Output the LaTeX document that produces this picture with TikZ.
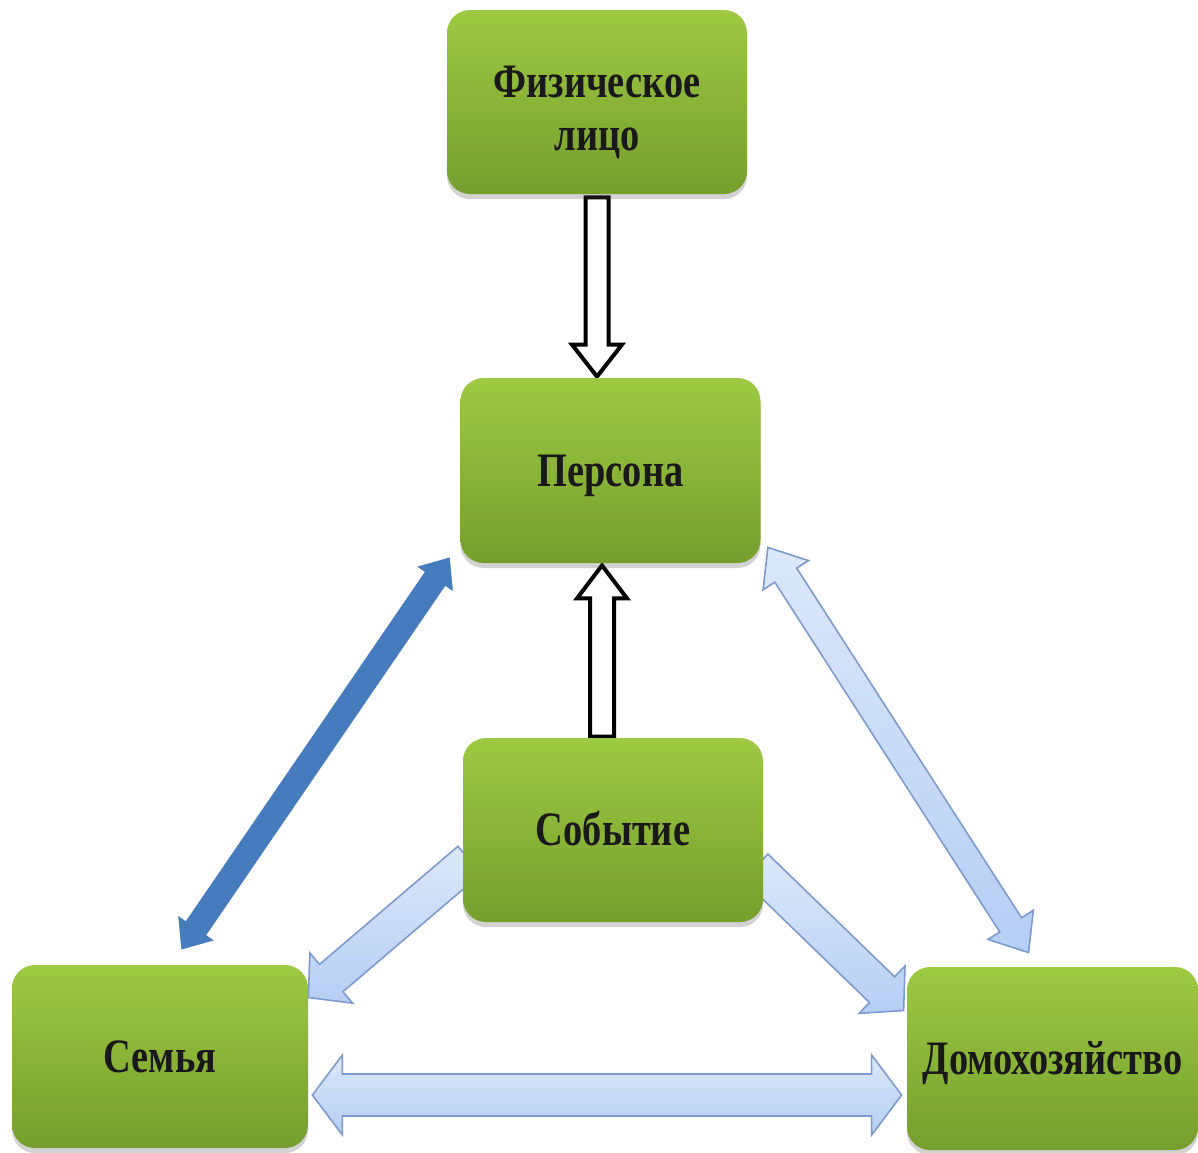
\documentclass[tikz,border=0pt]{standalone}
\usepackage{fontspec}
\newfontfamily\boxfont{Liberation Serif}[FakeStretch=0.8]
\usetikzlibrary{calc,shadows,backgrounds}
\pgfdeclarelayer{bgzero}
\pgfsetlayers{bgzero,background,main}
\definecolor{gtop}{RGB}{158,201,66}
\definecolor{gmid}{RGB}{150,192,60}
\definecolor{gbot}{RGB}{118,158,46}
\definecolor{dblue}{RGB}{70,124,190}
\definecolor{lblue}{RGB}{200,218,246}
\definecolor{lbtop}{RGB}{220,232,250}
\definecolor{lbbot}{RGB}{182,206,244}
\definecolor{lbline}{RGB}{125,155,205}
% single block arrow: style, from, to, shaft half, head half, head length
\newcommand\sblockarrow[6]{%
 \path[#1] ($(#2)!#4!90:(#3)$)
 -- ($(#3)!#6!(#2)!#4!90:(#3)$)
 -- ($(#3)!#6!(#2)!#5!90:(#3)$)
 -- (#3)
 -- ($(#3)!#6!(#2)!#5!-90:(#3)$)
 -- ($(#3)!#6!(#2)!#4!-90:(#3)$)
 -- ($(#2)!#4!-90:(#3)$) -- cycle;}
% double block arrow
\newcommand\dblockarrow[6]{%
 \path[#1] ($(#2)!#6!(#3)!#4!90:(#3)$)
 -- ($(#3)!#6!(#2)!#4!90:(#3)$)
 -- ($(#3)!#6!(#2)!#5!90:(#3)$)
 -- (#3)
 -- ($(#3)!#6!(#2)!#5!-90:(#3)$)
 -- ($(#3)!#6!(#2)!#4!-90:(#3)$)
 -- ($(#2)!#6!(#3)!#4!-90:(#3)$)
 -- ($(#2)!#6!(#3)!#5!-90:(#3)$)
 -- (#2)
 -- ($(#2)!#6!(#3)!#5!90:(#3)$) -- cycle;}
\newcommand\onelinetext[1]{\raisebox{-7.75pt}[0pt][0pt]{#1}}
\newcommand\twolinetext[1]{\raisebox{2.5pt}[0pt][0pt]{\begin{tabular}[t]{@{}c@{}}#1\end{tabular}}}
\begin{document}
\begin{tikzpicture}[x=0.5pt,y=-0.5pt,
  box/.style={rounded corners=11.5pt, top color=gtop, middle color=gmid, bottom color=gbot,
    draw=none, inner sep=0pt, align=center, minimum width=150pt, minimum height=92pt,
    font=\boxfont\bfseries\fontsize{24}{26.5}\selectfont, text=black!90,
    drop shadow={shadow xshift=0pt, shadow yshift=-2.5pt, opacity=0.25, fill=black!70}},
  hollow/.style={fill=white, draw=black, line width=2pt, line join=miter},
  darkarr/.style={fill=dblue, draw=white, line width=1.5pt, line join=miter},
  lightarr/.style={top color=lbtop, bottom color=lbbot, draw=lbline, line width=0.8pt, line join=miter}]
\begin{pgfonlayer}{bgzero}
\fill[white] (0,0) rectangle (1198,1152);
\end{pgfonlayer}
\useasboundingbox (0,0) rectangle (1198,1152);

\node[box] (fiz) at (597,102) {\twolinetext{Физическое\\лицо}};
\node[box, minimum height=92.5pt] (pers) at (610.5,470.5) {\onelinetext{Персона}};
\node[box] (sob) at (613,830) {\onelinetext{Событие}};
\node[box, minimum width=148pt, minimum height=91.5pt] (sem) at (160,1056.5) {\onelinetext{Семья}};
\node[box, minimum width=145.5pt, minimum height=91.5pt] (dom) at (1052.5,1058.5) {\onelinetext{Домохозяйство}};

% connector end points
\coordinate (h1a) at ($(fiz.south)+(0,3)$);
\coordinate (h1b) at ($(fiz.south |- pers.north)+(0,-1)$);
\coordinate (h2a) at ($(sob.north)+(-11,-1)$);
\coordinate (h2b) at ($(sob.north |- pers.south)+(-11,2)$);
\coordinate (d1a) at ($(sem.north)+(20,-13)$);
\coordinate (d1b) at ($(pers.south west)+(-9,-8)$);
\coordinate (d2a) at ($(pers.south east)+(7,-16)$);
\coordinate (d2b) at ($(dom.north)+(-24,-14)$);
\coordinate (s1a) at ($(sob.west)+(7,30)$);
\coordinate (s1b) at ($(sem.east)+(0,-59)$);
\coordinate (s2a) at ($(sob.east)+(-8,37)$);
\coordinate (s2b) at ($(dom.west)+(-3,-48)$);
\coordinate (ha) at ($(sem.east)+(4,38.5)$);
\coordinate (hb) at ($(dom.west)+(-5,36.5)$);

\begin{pgfonlayer}{background}
\sblockarrow{hollow}{h1a}{h1b}{5.75pt}{12.5pt}{16pt}
\sblockarrow{hollow}{h2a}{h2b}{6pt}{12.5pt}{16.5pt}
\dblockarrow{darkarr}{d1a}{d1b}{7pt}{12.5pt}{15pt}
\dblockarrow{lightarr}{d2a}{d2b}{6.5pt}{13.5pt}{16.5pt}
\sblockarrow{lightarr}{s1a}{s1b}{9pt}{16.5pt}{15pt}
\sblockarrow{lightarr}{s2a}{s2b}{9pt}{16.5pt}{15pt}
\dblockarrow{lightarr}{ha}{hb}{10.5pt}{20pt}{15pt}
\end{pgfonlayer}
\end{tikzpicture}
\end{document}
